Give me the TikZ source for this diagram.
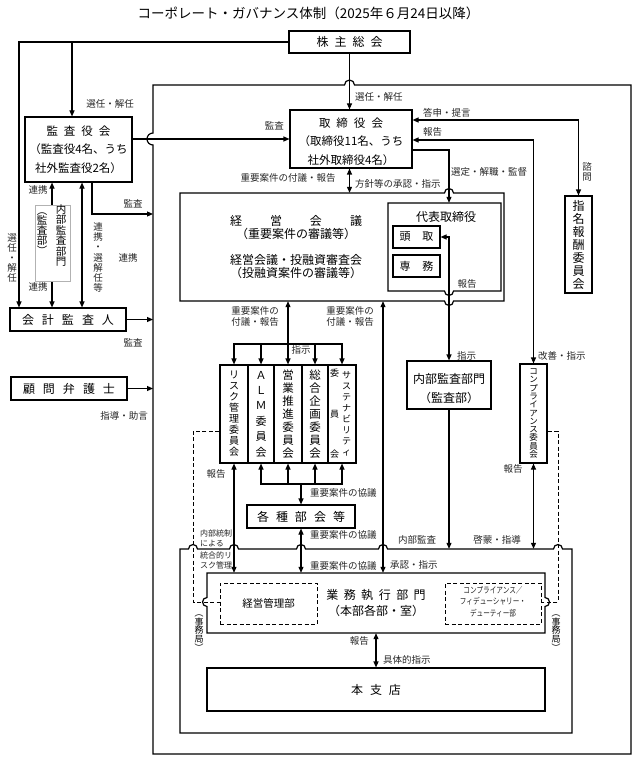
\documentclass[tikz,border=0pt]{standalone}
\usepackage{fontspec}
\setmainfont{Noto Sans CJK JP}
\usepackage{graphicx}
\usetikzlibrary{arrows.meta,calc}
\newcommand{\vpo}{\rotatebox[origin=c]{-90}{（}}
\newcommand{\vpc}{\rotatebox[origin=c]{-90}{）}}
\begin{document}
\lineskiplimit=-20pt
\lineskip=0pt
\begin{tikzpicture}[x=1pt,y=-1pt,
  box/.style={draw,line width=1.1pt,inner sep=0pt,align=center},
  plain/.style={inner sep=0pt,align=center},
  lab/.style={inner sep=0pt,font=\fontsize{9.5}{11}\selectfont,text=black!85},
  slab/.style={inner sep=0pt,align=left,font=\fontsize{8}{10}\selectfont,text=black!85},
  vlab/.style={inner sep=0pt,align=center,font=\fontsize{9.5}{10.2}\selectfont,text=black!85},
  ln/.style={line width=1.1pt},
  ar/.style={ln,-{Triangle[length=6pt,width=5pt]}},
  dar/.style={ln,{Triangle[length=6pt,width=5pt]}-{Triangle[length=6pt,width=5pt]}},
  dsh/.style={line width=1pt,dash pattern=on 4pt off 2.5pt},
  frm/.style={line width=1.2pt},
]
\useasboundingbox (0,0) rectangle (639,762);

% helper coordinates
\coordinate (xL1) at (19,0);
\coordinate (xL2) at (72,0);
\coordinate (xB) at (92,0);
\coordinate (xC) at (52,0);
\coordinate (xD) at (82,0);
\coordinate (xT) at (349.5,0);
\coordinate (xR) at (449,0);
\coordinate (xF) at (383,0);
\coordinate (xDL) at (193,0);
\coordinate (xDR) at (558,0);
\coordinate (yA) at (0,139);
\coordinate (y120) at (0,120);
\coordinate (y140) at (0,140);
\coordinate (y150) at (0,150);
\coordinate (yBarT) at (0,344);
\coordinate (yBarB) at (0,484);
\coordinate (yDL) at (0,602);
\coordinate (y431) at (0,431);
\coordinate (fL) at (153,214);

% title
\node[plain,font=\fontsize{13.5}{15}\selectfont] (title) at (308.5,13) {コーポレート・ガバナンス体制（2025年６月24日以降）};

% big frame
\draw[frm] (153,754) -- (153,145) arc[start angle=90,end angle=270,radius=6] -- (153,85) -- (344.5,85) arc[start angle=180,end angle=360,radius=5] -- (631,85) -- (631,754) -- cycle;

% boxes
\node[box,minimum width=121pt,minimum height=22pt,font=\fontsize{12}{14}\selectfont] (kabu) at (349.5,42) {株\hspace{6pt}主\hspace{6pt}総\hspace{6pt}会};
\node[box,minimum width=107pt,minimum height=65pt,font=\fontsize{11.5}{18.5}\selectfont] (kansa) at (78.5,149.5) {監\hspace{6pt}査\hspace{6pt}役\hspace{6pt}会\\（監査役4名、うち\\社外監査役2名）};
\node[box,minimum width=122pt,minimum height=58pt] (tori) at (351,139) {};
\node[plain,font=\fontsize{11.5}{18.5}\selectfont] (toriT) at (351,141.5) {取\hspace{6pt}締\hspace{6pt}役\hspace{6pt}会\\（取締役11名、うち\\社外取締役4名）};
\node[box,minimum width=27pt,minimum height=97pt,font=\fontsize{12}{13}\selectfont] (shimei) at (578.5,244.5) {指\\名\\報\\酬\\委\\員\\会};

% keiei kaigi
\node[plain,minimum width=324pt,minimum height=108pt] (keiei) at (342,247) {};
\draw[frm] (180,193) -- (444.5,193) arc[start angle=180,end angle=360,radius=4.5] -- (504,193) -- (504,301) -- (453.5,301) arc[start angle=0,end angle=180,radius=4.5] -- (180,301) -- cycle;
\node[plain,font=\fontsize{12}{13}\selectfont] (keieiT) at (296,247.5) {経\hspace{28pt}営\hspace{28pt}会\hspace{28pt}議\\（重要案件の審議等）\\[13pt]経営会議・投融資審査会\\（投融資案件の審議等）};

% daihyo
\node[plain,minimum width=113pt,minimum height=88pt] (daihyo) at (444.5,247) {};
\draw[frm] (388,203) -- (501,203) -- (501,291) -- (453.5,291) arc[start angle=0,end angle=180,radius=4.5] -- (388,291) -- cycle;
\node[plain,font=\fontsize{12}{14}\selectfont] (daihyoT) at (446,217) {代表取締役};
\node[box,minimum width=47pt,minimum height=22pt,font=\fontsize{11}{13}\selectfont] (todori) at (416.5,237) {頭\hspace{12pt}取};
\node[box,minimum width=47pt,minimum height=22pt,font=\fontsize{11}{13}\selectfont] (senmu) at (416.5,266) {専\hspace{12pt}務};

% left boxes
\node[box,minimum width=116pt,minimum height=23pt,font=\fontsize{12}{14}\selectfont] (kaikei) at (68,319.5) {会\hspace{8pt}計\hspace{8pt}監\hspace{8pt}査\hspace{8pt}人};
\node[box,minimum width=116pt,minimum height=23pt,font=\fontsize{12}{14}\selectfont] (komon) at (69,388.5) {顧\hspace{8pt}問\hspace{8pt}弁\hspace{8pt}護\hspace{8pt}士};

% committees
\node[box,minimum width=28pt,minimum height=98pt,font=\fontsize{10}{11}\selectfont] (risk) at (234,414) {リ\\ス\\ク\\管\\理\\委\\員\\会};
\node[box,minimum width=26pt,minimum height=98pt,font=\fontsize{11}{15.4}\selectfont] (alm) at (261,414) {Ａ\\Ｌ\\Ｍ\\委\\員\\会};
\node[box,minimum width=28pt,minimum height=98pt,font=\fontsize{11.5}{12.9}\selectfont] (eigyo) at (288,414) {営\\業\\推\\進\\委\\員\\会};
\node[box,minimum width=26pt,minimum height=98pt,font=\fontsize{11.5}{12.9}\selectfont] (sogo) at (315,414) {総\\合\\企\\画\\委\\員\\会};
\node[box,minimum width=28pt,minimum height=98pt] (sust) at (342,414) {};
\node[plain,font=\fontsize{9}{11}\selectfont] (sustR) at (346.5,414) {サ\\ス\\テ\\ナ\\ビ\\リ\\テ\\ィ};
\node[plain,font=\fontsize{9}{40.5}\selectfont] (sustL) at (334.5,414) {委\\員\\会};

\node[box,minimum width=84pt,minimum height=48pt] (naibu) at (449,385) {};
\node[plain,font=\fontsize{12}{19}\selectfont] (naibuT) at (449,388.5) {内部監査部門\\（監査部）};
\node[box,minimum width=27pt,minimum height=99pt,font=\fontsize{8.5}{8.3}\selectfont] (comp) at (533.5,413.5) {コ\\ン\\プ\\ラ\\イ\\ア\\ン\\ス\\委\\員\\会};

\node[box,minimum width=108pt,minimum height=23pt,font=\fontsize{12}{14}\selectfont] (kakushu) at (301,516.5) {各\hspace{7pt}種\hspace{7pt}部\hspace{7pt}会\hspace{7pt}等};

% gyomu frame and box
\node[plain,minimum width=392pt,minimum height=184pt] (gyomuF) at (376,641) {};
\draw[frm] (180,733) -- (180,549) -- (188.5,549) arc[start angle=180,end angle=360,radius=4.5]
  -- (229.5,549) arc[start angle=180,end angle=360,radius=4.5]
  -- (296.5,549) arc[start angle=180,end angle=360,radius=4.5]
  -- (378.5,549) arc[start angle=180,end angle=360,radius=4.5]
  -- (553.5,549) arc[start angle=180,end angle=360,radius=4.5]
  -- (572,549) -- (572,733) -- cycle;
\node[plain,minimum width=338pt,minimum height=60pt] (gyomu) at (376,603) {};
\draw[frm] (207,573) -- (545,573) -- (545,597.5) arc[start angle=270,end angle=450,radius=4.5] -- (545,633) -- (207,633) -- (207,606.5) arc[start angle=90,end angle=270,radius=4.5] -- cycle;
\node[plain,font=\fontsize{12}{16}\selectfont] (gyomuT) at (376,603) {業\hspace{5.5pt}務\hspace{5.5pt}執\hspace{5.5pt}行\hspace{5.5pt}部\hspace{5.5pt}門\\（本部各部・室）};
\node[draw,dsh,minimum width=97pt,minimum height=41pt,inner sep=0pt,font=\fontsize{10.5}{12}\selectfont] (kanri) at (268.5,603.5) {経営管理部};
\node[draw,dsh,minimum width=96pt,minimum height=41pt,inner sep=0pt] (compD) at (493,603.5) {};
\node[plain,font=\fontsize{8.5}{11.5}\selectfont,text=black!85] (compDT) at (493,601.5) {\scalebox{0.78}[1]{コンプライアンス／}\\\scalebox{0.78}[1]{フィデューシャリー・}\\\scalebox{0.78}[1]{デューティー部}};
\node[plain,font=\fontsize{9}{8.6}\selectfont] (jimuL) at (199,630.5) {\vpo\\事\\務\\局\\\vpc};
\node[plain,font=\fontsize{9}{8.6}\selectfont] (jimuR) at (556,630.5) {\vpo\\事\\務\\局\\\vpc};

\node[box,minimum width=338pt,minimum height=43pt,font=\fontsize{12}{14}\selectfont] (honshiten) at (376,689.5) {本\hspace{7pt}支\hspace{7pt}店};

% connectors
\draw[ar] (kabu.south) -- (kabu.south |- tori.north);
\draw[ar] (kabu.west) -| (xL1 |- kaikei.north);
\draw[ar] (xL2 |- kabu.west) -- (xL2 |- kansa.north);
\draw[ar] (kansa.east |- yA) -- (tori.west |- yA);
\draw[ar] (xB |- kansa.south) |- (fL);
\draw[dar] (xC |- kansa.south) -- (xC |- kaikei.north);
\draw[dar] (xD |- kansa.south) -- (xD |- kaikei.north);
\draw[ar] (kaikei.east) -- (kaikei.east -| fL);
\draw[ar] (komon.east) -- (komon.east -| fL);
\draw[dar] (tori.east |- y120) -| (shimei.north);
\draw[dar] (tori.east |- y140) -| (comp.north);
\draw[ar] (tori.east |- y150) -| (xR |- daihyo.north);
\draw[dar] (xT |- tori.south) -- (xT |- keiei.north);
\draw[dar] (todori.east) -| (xR |- naibu.north);
\draw[ar] (naibu.south) -- (naibu.south |- gyomuF.north);
\draw[dar] (eigyo.north |- keiei.south) -- (eigyo.north);
\draw[dar] (risk.north) -- (risk.north |- yBarT) -- (sust.north |- yBarT) -- (sust.north);
\draw[ar] (alm.north |- yBarT) -- (alm.north);
\draw[ar] (sogo.north |- yBarT) -- (sogo.north);
\draw[dar] (xF |- keiei.south) -- (xF |- gyomu.north);
\draw[dar] (alm.south) -- (alm.south |- yBarB) -- (sust.south |- yBarB) -- (sust.south);
\draw[ar] (eigyo.south |- yBarB) -- (eigyo.south);
\draw[ar] (sogo.south |- yBarB) -- (sogo.south);
\draw[ar] (kakushu.north |- yBarB) -- (kakushu.north);
\draw[dar] (risk.south) -- (risk.south |- gyomu.north);
\draw[dar] (kakushu.south) -- (kakushu.south |- gyomu.north);
\draw[dar] (comp.south) -- (comp.south |- gyomuF.north);
\draw[dar] (gyomu.south) -- (honshiten.north);
\draw[dsh] (risk.west |- y431) -| (xDL |- yDL) -- (kanri.west |- yDL);
\draw[dsh] (comp.east |- y431) -| (xDR |- yDL) -- (compD.east |- yDL);

% gray box (internal audit) drawn over the line
\node[draw=black!30,line width=0.6pt,fill=white,minimum width=35pt,minimum height=76pt,inner sep=0pt] (iab) at (52.5,243) {};
\node[plain,anchor=north,font=\fontsize{10.5}{10.5}\selectfont] (iabR) at (61,204) {内\\部\\監\\査\\部\\門};
\node[plain,anchor=north,font=\fontsize{10.5}{10}\selectfont] (iabL) at (42,205) {\vpo\\監\\査\\部\\\vpc};

% labels
\node[lab,anchor=west] (l1) at (355,97) {選任・解任};
\node[lab] (l2) at (110,104) {選任・解任};
\node[lab,anchor=east] (l3) at (284,126) {監査};
\node[lab] (l4) at (133,204) {監査};
\node[lab] (l5) at (38,190) {連携};
\node[lab] (l6) at (38,287) {連携};
\node[vlab] (l7) at (12,258) {選\\任\\・\\解\\任};
\node[vlab] (l8) at (98,257.5) {連\\携\\・\\選\\解\\任\\等};
\node[lab] (l9) at (128,258) {連携};
\node[lab] (l10) at (133,343) {監査};
\node[lab] (l11) at (124,416) {指導・助言};
\node[lab] (l12) at (288,178) {重要案件の付議・報告};
\node[lab,anchor=west] (l13) at (355,184) {方針等の承認・指示};
\node[lab,anchor=west] (l14) at (423,113) {答申・提言};
\node[lab,anchor=west] (l15) at (423,132) {報告};
\node[lab,anchor=west] (l16) at (451,172) {選定・解職・監督};
\node[vlab] (l17) at (587,172) {諮\\問};
\node[lab] (l18) at (467,284) {報告};
\node[lab,align=center] (l19) at (255,316) {重要案件の\\付議・報告};
\node[lab,align=center] (l20) at (350,316) {重要案件の\\付議・報告};
\node[lab] (l21) at (301,350) {指示};
\node[lab,anchor=west] (l22) at (457,356) {指示};
\node[lab,anchor=west] (l23) at (538,356) {改善・指示};
\node[lab] (l24) at (216,474) {報告};
\node[lab] (l25) at (513,469) {報告};
\node[lab,anchor=west] (l26) at (310,493) {重要案件の協議};
\node[lab,anchor=west] (l27) at (310,535) {重要案件の協議};
\node[lab,anchor=west] (l28) at (310,566) {重要案件の協議};
\node[lab] (l29) at (417,540) {内部監査};
\node[lab] (l30) at (497,540) {啓蒙・指導};
\node[lab,anchor=west] (l31) at (390,565) {承認・指示};
\node[slab,anchor=west] (l32) at (200,538) {内部統制\\による};
\node[slab,anchor=west] (l33) at (200,560) {統合的リ\\スク管理};
\node[lab,anchor=east] (l34) at (369,641) {報告};
\node[lab,anchor=west] (l35) at (383,660) {具体的指示};
\end{tikzpicture}
\end{document}
